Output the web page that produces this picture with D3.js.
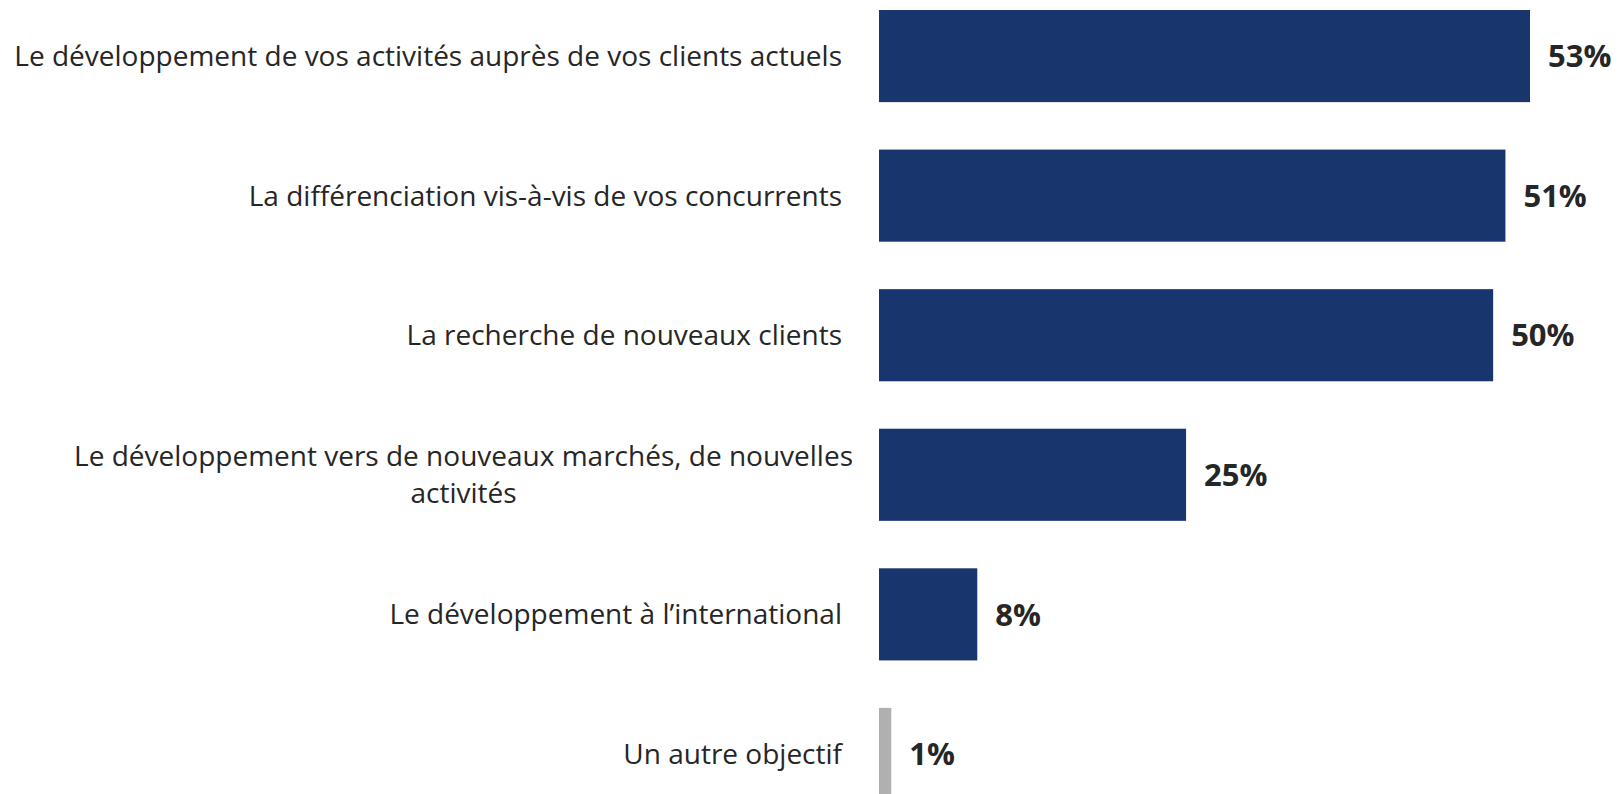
<!DOCTYPE html>
<html>
<head>
<meta charset="utf-8">
<title>objectifs</title>
<script src="https://cdnjs.cloudflare.com/ajax/libs/d3/7.8.5/d3.min.js"></script>
<style>
  body { margin: 0; background: #fff; }
  .cat { font-family: "Open Sans", sans-serif; font-size: 28px; fill: #262626; }
  .val { font-family: "Open Sans", sans-serif; font-size: 31px; font-weight: bold; fill: #262626; }
</style>
</head>
<body>
<svg width="1621" height="794"></svg>
<script>
  // data
  var categories = [
    "Le développement de vos activités auprès de vos clients actuels",
    "La différenciation vis-à-vis de vos concurrents",
    "La recherche de nouveaux clients",
    "Le développement vers de nouveaux marchés, de nouvelles\nactivités",
    "Le développement à l’international",
    "Un autre objectif"
  ];
  var values = [53, 51, 50, 25, 8, 1];
  var valueLabels = ["53%", "51%", "50%", "25%", "8%", "1%"];
  var barColors = ["#19356d", "#19356d", "#19356d", "#19356d", "#19356d", "#b0b0b0"];

  var svg = d3.select("svg"),
      margin = { top: 10, left: 879 },
      width = 651;

  var data = categories.map(function (c, i) {
    return { cat: c, value: values[i], label: valueLabels[i], color: barColors[i] };
  });

  var x = d3.scaleLinear()
      .domain([0, 53])
      .range([margin.left, margin.left + width]);

  var y = d3.scaleBand()
      .domain(categories)
      .range([margin.top, 800])
      .paddingInner(0.34)
      .paddingOuter(0);

  // bars
  svg.selectAll(".bar")
      .data(data)
      .enter().append("rect")
      .attr("class", "bar")
      .attr("x", x(0))
      .attr("y", function (d) { return y(d.cat); })
      .attr("width", function (d) { return x(d.value) - x(0); })
      .attr("height", y.bandwidth())
      .attr("fill", function (d) { return d.color; });

  // values
  svg.selectAll(".val")
      .data(data)
      .enter().append("text")
      .attr("class", "val")
      .attr("x", function (d) { return x(d.value) + 18; })
      .attr("y", function (d) { return y(d.cat) + y.bandwidth() / 2; })
      .attr("dy", "0.36em")
      .text(function (d) { return d.label; });

  // category labels (multi-line ones are centered on their widest line)
  var lineH = 37;
  data.forEach(function (d) {
    var lines = d.cat.split("\n");
    var cy = y(d.cat) + y.bandwidth() / 2;
    var t = svg.append("text").attr("class", "cat");
    lines.forEach(function (l, j) {
      t.append("tspan")
        .attr("y", cy + (j - (lines.length - 1) / 2) * lineH)
        .attr("dy", "0.36em")
        .text(l);
    });
    if (lines.length === 1) {
      t.attr("text-anchor", "end").selectAll("tspan").attr("x", 842);
    } else {
      var w = d3.max(t.selectAll("tspan").nodes(), function (n) { return n.getComputedTextLength(); });
      t.attr("text-anchor", "middle").selectAll("tspan").attr("x", 853 - w / 2);
    }
  });
</script>
</body>
</html>
